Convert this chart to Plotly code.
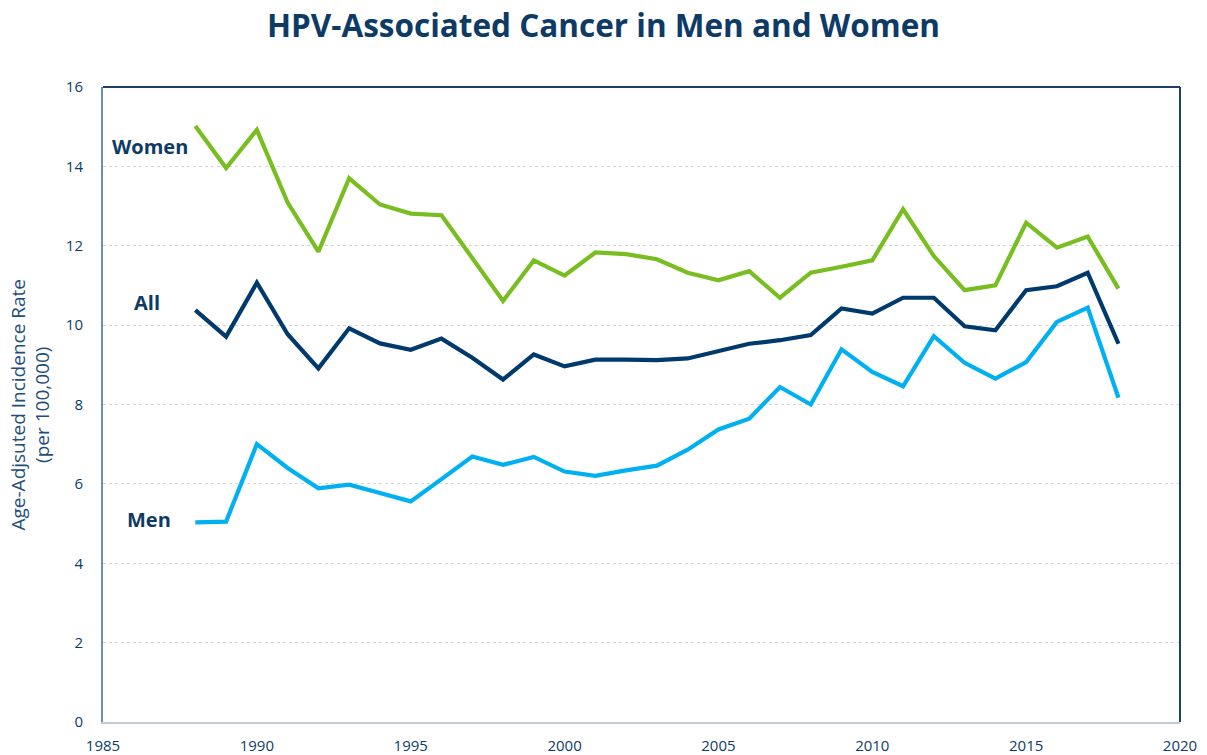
import plotly.graph_objects as go

years = list(range(1988, 2019))

women = [15.02, 13.96, 14.92, 13.09, 11.85, 13.70, 13.04, 12.81, 12.77, 11.70,
         10.61, 11.63, 11.25, 11.83, 11.79, 11.66, 11.32, 11.13, 11.36, 10.69,
         11.32, 11.47, 11.63, 12.92, 11.74, 10.88, 11.00, 12.58, 11.95, 12.23, 10.92]

all_ = [10.38, 9.71, 11.07, 9.77, 8.91, 9.92, 9.54, 9.38, 9.66, 9.18,
        8.63, 9.26, 8.96, 9.13, 9.13, 9.12, 9.16, 9.34, 9.53, 9.62,
        9.75, 10.42, 10.29, 10.69, 10.69, 9.97, 9.87, 10.88, 10.98, 11.32, 9.53]

men = [5.03, 5.05, 7.00, 6.40, 5.89, 5.98, 5.77, 5.56, 6.12, 6.69,
       6.48, 6.68, 6.31, 6.20, 6.34, 6.46, 6.86, 7.37, 7.64, 8.44,
       8.00, 9.39, 8.82, 8.46, 9.72, 9.05, 8.65, 9.07, 10.08, 10.44, 8.17]

series_names = ["Women", "All", "Men"]
series_colors = ["#78BE21", "#003A6C", "#00B0F0"]
label_pos = [(1986.54, 14.49), (1986.44, 10.57), (1986.5, 5.09)]

x_ticks = [1985, 1990, 1995, 2000, 2005, 2010, 2015, 2020]
y_ticks = [0, 2, 4, 6, 8, 10, 12, 14, 16]

NAVY = "#0D3B66"
FONT = "Open Sans"

fig = go.Figure()
for name, vals, col in zip(series_names, [women, all_, men], series_colors):
    fig.add_trace(go.Scatter(x=years, y=vals, mode="lines", name=name,
                             line=dict(color=col, width=4.2), showlegend=False))

for name, (lx, ly) in zip(series_names, label_pos):
    fig.add_annotation(x=lx, y=ly, xref="x", yref="y", text="<b>%s</b>" % name,
                       showarrow=False, font=dict(family=FONT, size=20, color=NAVY))

# y-axis title as a rotated annotation for precise placement
fig.add_annotation(x=-73 / 1077, y=0.5, xref="paper", yref="paper",
                   text="Age-Adjsuted Incidence Rate<br>(per 100,000)", textangle=-90,
                   showarrow=False, xanchor="center", yanchor="middle",
                   font=dict(family=FONT, size=19, color="#1F4E79"))

fig.update_layout(
    width=1207, height=755,
    margin=dict(l=103, r=27, t=87, b=33, autoexpand=False),
    paper_bgcolor="white", plot_bgcolor="white",
    title=dict(text="<b>HPV-Associated Cancer in Men and Women</b>", x=0.5, xanchor="center",
               y=0.965, yanchor="middle",
               font=dict(family=FONT, size=31.5, color=NAVY)),
    font=dict(family=FONT, color=NAVY),
)
fig.update_xaxes(range=[1985, 2020], tickvals=x_ticks, showgrid=False, zeroline=False,
                 showline=True, linecolor="#C3CBD5", linewidth=2, automargin=False,
                 ticks="", ticklabelstandoff=9,
                 tickfont=dict(family=FONT, size=15, color=NAVY))
fig.update_yaxes(range=[0, 16], tickvals=y_ticks, showgrid=True, gridcolor="#D6D6D6",
                 griddash="dot", gridwidth=1, zeroline=False, automargin=False,
                 showline=True, linecolor="#6F8FB0", linewidth=2, ticks="",
                 tickfont=dict(family=FONT, size=15, color=NAVY), ticklabelstandoff=15)
# top and right borders of the plot area
fig.add_shape(type="line", xref="paper", yref="paper", x0=0, x1=1, y0=1, y1=1,
              line=dict(color="#1F3F6A", width=2))
fig.add_shape(type="line", xref="paper", yref="paper", x0=1, x1=1, y0=0, y1=1,
              line=dict(color="#1F3F6A", width=2))

fig.write_html("out.html", config={"displayModeBar": False},
               post_script="document.body.style.margin='0';document.body.style.overflow='hidden';")
